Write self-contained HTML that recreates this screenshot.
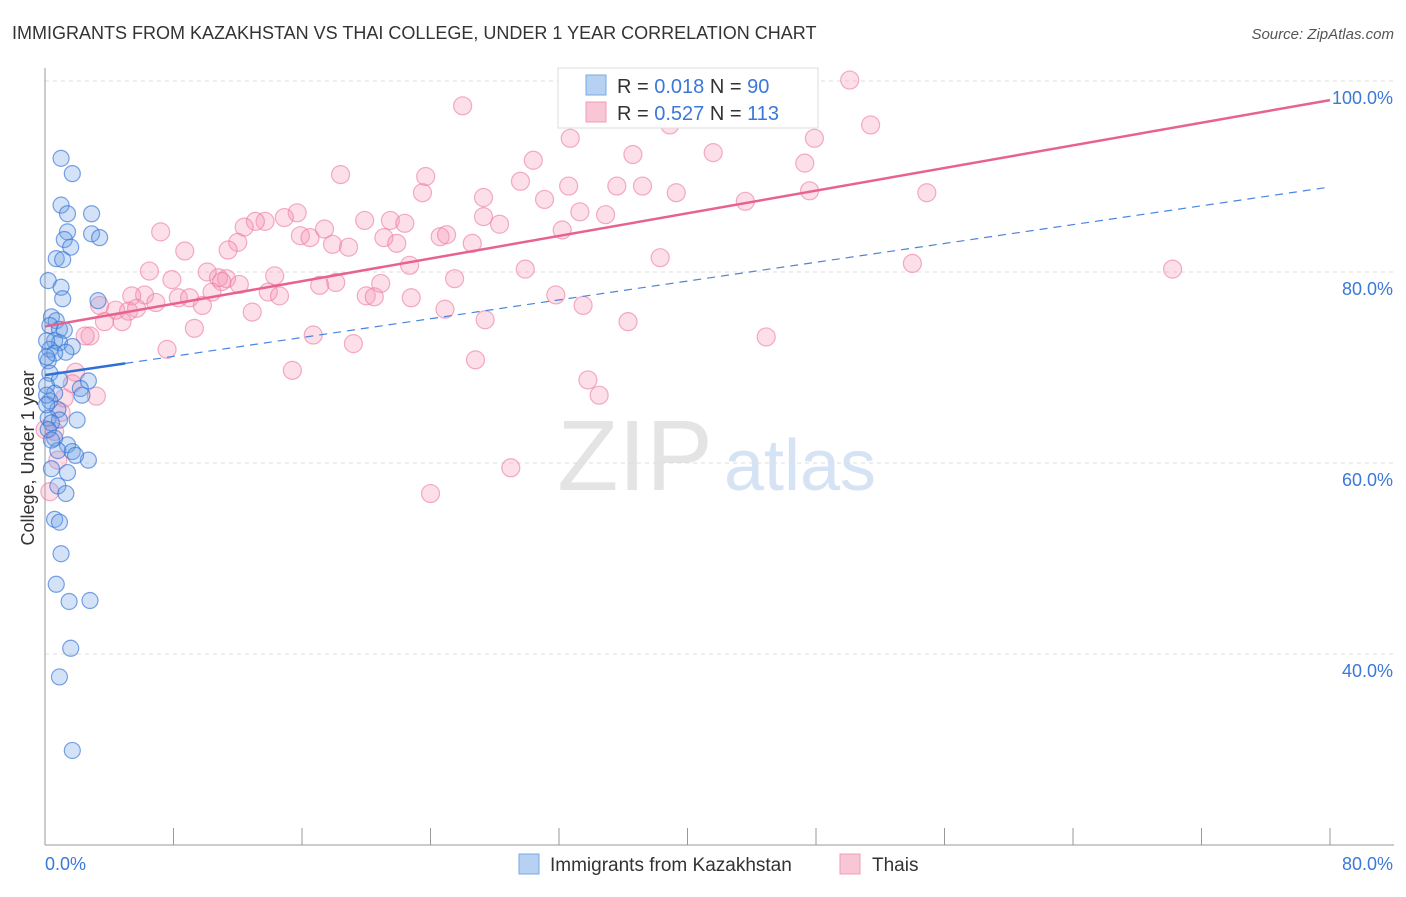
<!DOCTYPE html>
<html><head><meta charset="utf-8">
<style>
body{margin:0;background:#fff;font-family:"Liberation Sans",sans-serif;}
svg text{font-family:"Liberation Sans",sans-serif;}
</style></head>
<body>
<svg id="chart" width="1406" height="892">
<text x="12" y="39" font-size="18" fill="#333">IMMIGRANTS FROM KAZAKHSTAN VS THAI COLLEGE, UNDER 1 YEAR CORRELATION CHART</text>
<text x="1394" y="39" font-size="15" fill="#555" font-style="italic" text-anchor="end">Source: ZipAtlas.com</text>
<text x="635" y="490" font-size="100" fill="#e4e4e4" font-family="Liberation Serif" text-anchor="middle">ZIP</text>
<text x="800" y="490" font-size="72" fill="#d5e3f5" text-anchor="middle">atlas</text>
<g id="grid"></g>
<g id="axes"></g>
<g id="pts"></g>
<g id="lines"></g>
<text transform="translate(34,458) rotate(-90)" font-size="18" fill="#333" text-anchor="middle">College, Under 1 year</text>
<g>
<rect x="558" y="68" width="260" height="60" fill="#fff" stroke="#ddd"/>
<rect x="586" y="75" width="20" height="20" fill="#b7d1f3" stroke="#7aa7e6"/>
<rect x="586" y="102" width="20" height="20" fill="#f9c6d5" stroke="#ef9db6"/>
<text x="617" y="93" font-size="20" fill="#333">R = <tspan fill="#3b78d8">0.018</tspan>   N = <tspan fill="#3b78d8">90</tspan></text>
<text x="617" y="120" font-size="20" fill="#333">R = <tspan fill="#3b78d8">0.527</tspan>   N = <tspan fill="#3b78d8">113</tspan></text>
</g>
<g>
<rect x="519" y="854" width="20" height="20" fill="#b7d1f3" stroke="#7aa7e6"/>
<text x="550" y="871" font-size="19" fill="#333">Immigrants from Kazakhstan</text>
<rect x="840" y="854" width="20" height="20" fill="#f9c6d5" stroke="#ef9db6"/>
<text x="872" y="871" font-size="19" fill="#333">Thais</text>
</g>
</svg>
<script>
const yTicks=[100,80,60,40];
const yTickLabels=["100.0%","80.0%","60.0%","40.0%"];
const xTicks=[0,8,16,24,32,40,48,56,64,72,80];
const blueX=[1.0,1.7,1.0,1.4,2.9,1.4,1.2,1.6,2.9,3.4,0.7,1.1,0.2,1.0,1.1,3.3,0.4,0.7,0.3,0.9,1.2,0.6,0.9,1.7,0.3,1.3,0.6,0.2,0.3,0.9,2.7,0.1,2.2,0.6,2.3,0.3,0.8,0.2,0.9,2.0,0.4,0.6,1.4,0.8,1.7,2.7,1.9,0.4,1.4,0.8,1.3,0.6,0.9,1.0,0.7,1.5,2.8,1.6,0.9,1.7,0.1,0.1,0.1,0.1,0.2,0.4];
const blueY=[91.9,90.3,87.0,86.1,86.1,84.2,83.4,82.6,84.0,83.6,81.4,81.3,79.1,78.4,77.2,77.0,75.3,74.9,74.4,74.0,73.9,72.8,72.6,72.2,71.9,71.6,71.5,70.7,69.4,68.7,68.6,68.1,67.8,67.3,67.1,66.5,65.6,64.7,64.5,64.5,64.2,62.6,61.9,61.3,61.2,60.3,60.8,59.4,59.0,57.6,56.8,54.1,53.8,50.5,47.3,45.5,45.6,40.6,37.6,29.9,72.8,71.1,67.1,66.1,63.5,62.4];
const pinkX=[50.1,26.0,51.4,32.7,38.9,47.9,36.6,41.6,47.3,30.4,18.4,23.7,29.6,23.5,32.6,35.6,37.2,27.3,31.1,39.3,54.9,47.6,43.6,33.3,34.9,27.3,28.3,15.7,14.9,13.7,13.1,12.4,7.2,15.9,16.5,17.4,19.9,21.5,22.4,21.1,21.9,24.6,25.0,26.6,17.9,18.9,12.0,11.4,8.7,32.2,38.3,54.0,70.2,22.7,29.9,6.5,10.1,7.9,14.3,10.8,11.3,11.0,12.1,10.4,6.2,5.4,8.3,9.0,13.9,14.6,17.1,18.1,20.9,20.0,20.5,22.8,25.5,31.8,6.9,9.8,12.9,4.4,5.2,5.7,3.4,3.7,4.8,24.9,33.5,27.4,36.3,9.3,16.7,2.8,44.9,7.6,19.2,26.8,15.4,33.8,34.5,1.9,1.7,3.2,1.2,1.0,0.6,29.0,24.0,0.3,0.0,2.5,0.8];
const pinkY=[100.1,97.4,95.4,94.0,95.4,94.0,92.3,92.5,91.4,91.7,90.2,90.0,89.5,88.3,89.0,89.0,89.0,87.8,87.6,88.3,88.3,88.5,87.4,86.3,86.0,85.8,85.0,86.2,85.7,85.3,85.3,84.7,84.2,83.8,83.6,84.5,85.4,85.4,85.1,83.6,83.0,83.7,83.9,83.0,82.9,82.6,83.1,82.3,82.2,84.4,81.5,80.9,80.3,80.7,80.3,80.1,80.0,79.2,79.6,79.4,79.3,79.0,78.7,77.9,77.6,77.5,77.3,77.3,77.9,77.5,78.6,78.9,78.8,77.5,77.4,77.3,79.3,77.6,76.8,76.5,75.8,76.0,75.9,76.2,76.5,74.8,74.8,76.1,76.5,75.0,74.8,74.1,73.4,73.3,73.2,71.9,72.5,70.8,69.7,68.7,67.1,69.5,68.3,67.0,66.8,65.3,63.3,59.5,56.8,57.0,63.5,73.3,60.3];
const pinkFit=[74.3,98.0];
const blueFit=[69.2,88.9];
const blueSolidEnd=5;
const NS="http://www.w3.org/2000/svg";
function xs(v){return 45+v/80*1285;}
function ys(v){return 81+(100-v)*9.55;}
function mk(tag,attrs,parent){const e=document.createElementNS(NS,tag);for(const k in attrs)e.setAttribute(k,attrs[k]);document.getElementById(parent).appendChild(e);return e;}
yTicks.forEach((t,i)=>{
 const l=mk('line',{x1:45,x2:1394,y1:ys(t),y2:ys(t),stroke:'#ddd','stroke-dasharray':'4,4'},'grid');
 
 
 const tx=mk('text',{x:1393,y:ys(t)+23,'font-size':18,fill:'#3b78d8','text-anchor':'end'},'grid');
 tx.textContent=yTickLabels[i];
 
 
});
const ax=mk('line',{x1:45,x2:45,y1:68,y2:845,stroke:'#999'},'axes');


const bx=mk('line',{x1:45,x2:1394,y1:845,y2:845,stroke:'#999'},'axes');


xTicks.forEach(t=>{
 const l=mk('line',{x1:xs(t),x2:xs(t),y1:828,y2:845,stroke:'#999'},'axes');
 
 
});
const x0=mk('text',{x:45,y:870,'font-size':18,fill:'#3b78d8'},'axes');x0.textContent='0.0%';


const x1=mk('text',{x:1393,y:870,'font-size':18,fill:'#3b78d8','text-anchor':'end'},'axes');x1.textContent='80.0%';


pinkX.forEach((v,i)=>{
 const c=mk('circle',{cx:xs(v),cy:ys(pinkY[i]),r:9,fill:'rgba(244,150,180,0.3)',stroke:'rgba(236,120,160,0.6)','stroke-width':1.2},'pts');
 
 
});
blueX.forEach((v,i)=>{
 const c=mk('circle',{cx:xs(v),cy:ys(blueY[i]),r:8,fill:'rgba(110,160,230,0.3)',stroke:'rgba(50,115,215,0.65)','stroke-width':1.2},'pts');
 
 
});
const pl=mk('line',{x1:xs(0),y1:ys(pinkFit[0]),x2:xs(80),y2:ys(pinkFit[1]),stroke:'#e8628f','stroke-width':2.5},'lines');


const bAt=x=>blueFit[0]+(blueFit[1]-blueFit[0])*x/80;
const bl=mk('line',{x1:xs(0),y1:ys(blueFit[0]),x2:xs(blueSolidEnd),y2:ys(bAt(blueSolidEnd)),stroke:'#2f6fd6','stroke-width':2.5},'lines');


const bd=mk('line',{x1:xs(blueSolidEnd),y1:ys(bAt(blueSolidEnd)),x2:xs(80),y2:ys(blueFit[1]),stroke:'#4a84dc','stroke-width':1.2,'stroke-dasharray':'8,6'},'lines');


</script>
</body></html>
